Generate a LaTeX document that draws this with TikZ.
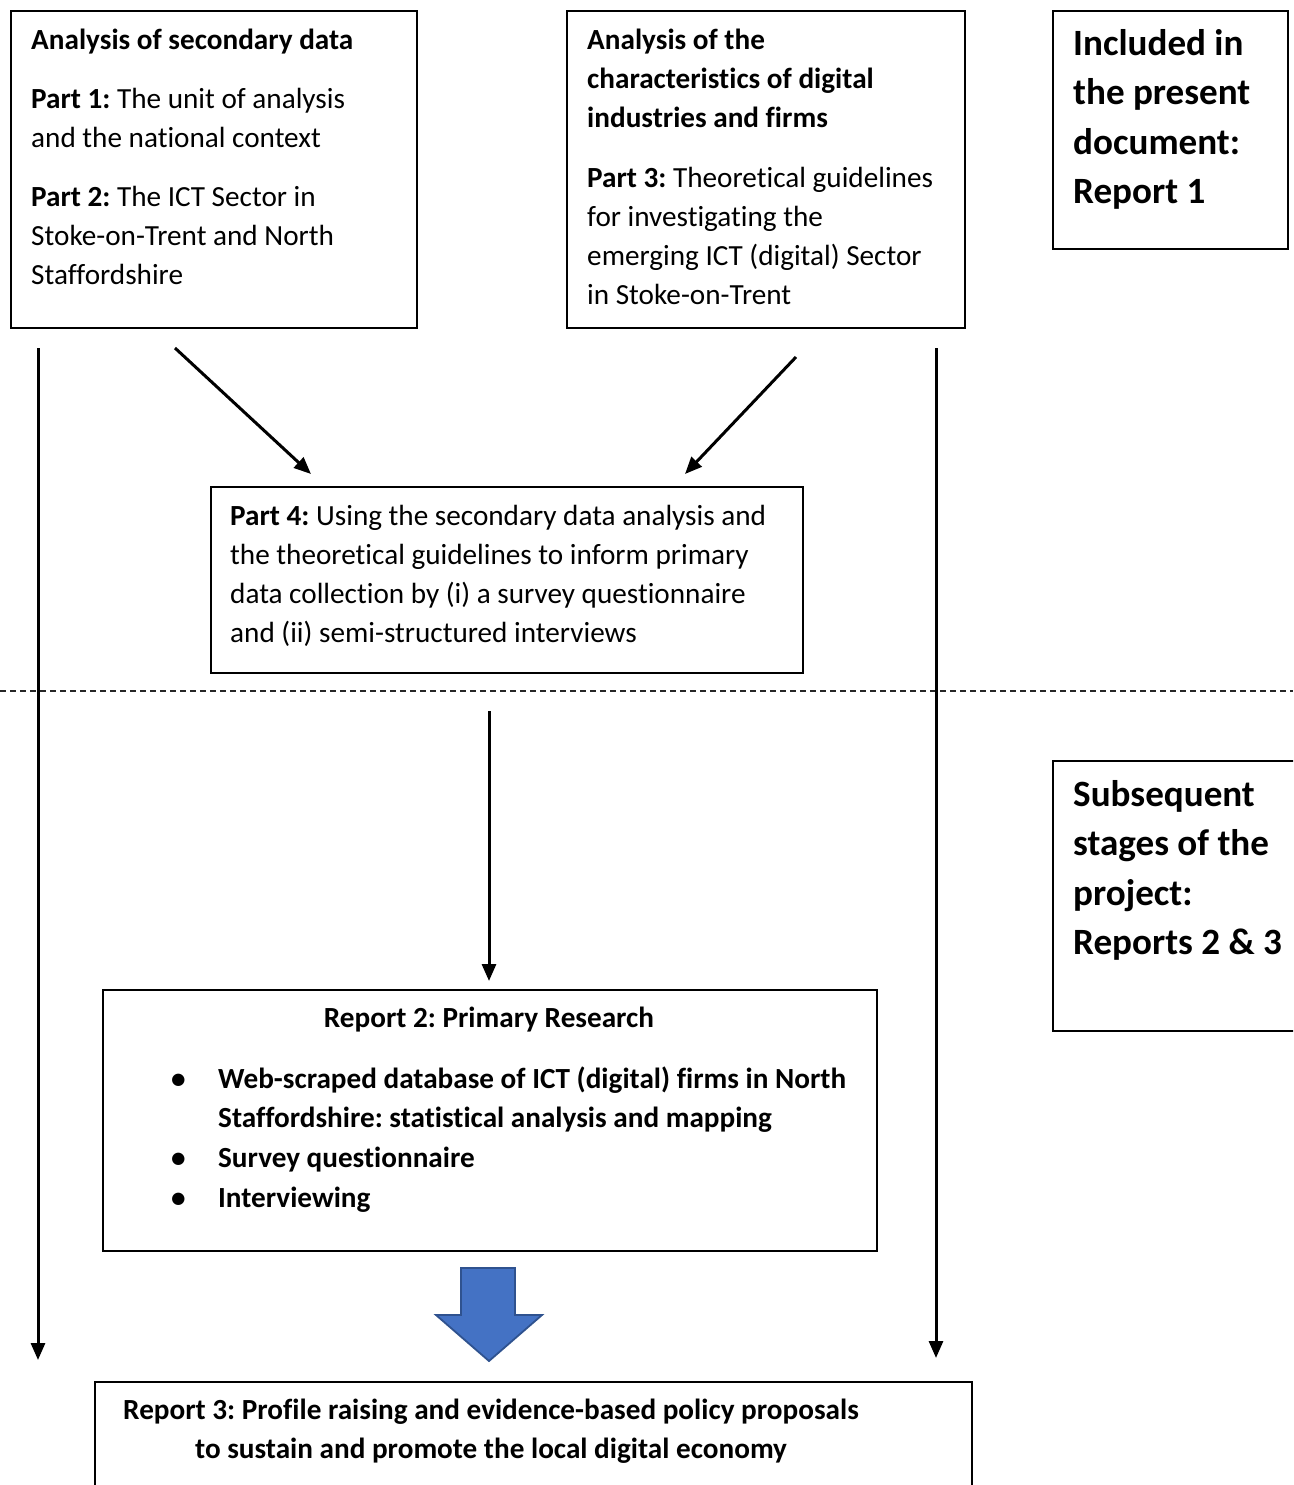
\documentclass[tikz,border=0pt]{standalone}
\usepackage{fontspec}
\setmainfont{Carlito}[RawFeature={-liga;-clig;-calt;-dlig;-hlig}]
\usetikzlibrary{arrows.meta}
\newcommand\nfont{\fontsize{29.2}{39}\selectfont\frenchspacing}
\newcommand\bigfont{\fontsize{37.1}{49.5}\selectfont\bfseries\frenchspacing}
\definecolor{arrowblue}{HTML}{4472C4}
\definecolor{arrowedge}{HTML}{2F528F}
\tikzset{
  box/.style={draw=black, line width=2, inner sep=0, anchor=north west},
  txt/.style={anchor=north west, inner sep=0, align=left, font=\nfont},
  ctxt/.style={anchor=north, inner sep=0, align=center, font=\nfont\bfseries},
  bigtxt/.style={anchor=north west, inner sep=0, align=left, font=\bigfont},
  arr/.style={line width=3, -{Triangle[length=17,width=14]}},
}
\begin{document}
\begin{tikzpicture}[x=1pt,y=-1pt]
\clip (0,0) rectangle (1293,1485);
\fill[white] (0,0) rectangle (1293,1485);

% boxes
\node[box, minimum width=406, minimum height=317] (A) at (10,10) {};
\node[box, minimum width=398, minimum height=317] (B) at (566,10) {};
\node[box, minimum width=235, minimum height=238] (R1) at (1052,10) {};
\node[box, minimum width=592, minimum height=186] (P4) at (210,486) {};
\node[box, minimum width=774, minimum height=261] (R2) at (102,989) {};
\node[box, minimum width=280, minimum height=270] (R23) at (1052,760) {};
\node[box, minimum width=877, minimum height=160] (R3) at (94,1381) {};

% texts
\node[txt] (tA) at (31,21.7) {\strut\textbf{Analysis of secondary data}\\[20pt]
\strut\textbf{Part 1:} The unit of analysis\\
\strut and the national context\\[20pt]
\strut\textbf{Part 2:} The ICT Sector in\\
\strut Stoke-on-Trent and North\\
\strut Staffordshire};

\node[txt] (tB) at (587,21.7) {\strut\textbf{Analysis of the}\\
\strut\textbf{characteristics of digital}\\
\strut\textbf{industries and firms}\\[21pt]
\strut\textbf{Part 3:} Theoretical guidelines\\
\strut for investigating the\\
\strut emerging ICT (digital) Sector\\
\strut in Stoke-on-Trent};

\node[bigtxt] (tR1) at (1073,20.4) {\strut Included in\\ \strut the present\\ \strut document:\\ \strut Report 1};

\node[bigtxt] (tR23) at (1073,771.4) {\strut Subsequent\\ \strut stages of the\\ \strut project:\\ \strut Reports 2 \& 3};

\node[txt] (tP4) at (230,497.7) {\strut\textbf{Part 4:} Using the secondary data analysis and\\
\strut the theoretical guidelines to inform primary\\
\strut data collection by (i) a survey questionnaire\\
\strut and (ii) semi-structured interviews};

\node[ctxt] (tR2) at (489,999.7) {\strut Report 2: Primary Research};
\node[txt, font=\nfont\bfseries] (tR2b) at (171,1060.7) {%
\strut\makebox[47pt][l]{•}Web-scraped database of ICT (digital) firms in North\\[0pt]
\strut\hspace*{47pt}Staffordshire: statistical analysis and mapping\\[1pt]
\strut\makebox[47pt][l]{•}Survey questionnaire\\[1pt]
\strut\makebox[47pt][l]{•}Interviewing};

\node[ctxt] (tR3) at (491,1391.7) {\strut Report 3: Profile raising and evidence-based policy proposals\\
\strut to sustain and promote the local digital economy};

% dashed separator
\coordinate (dL) at (0,691);
\coordinate (dR) at (1293,691);
\draw[line width=2.2, dash pattern=on 6pt off 4pt, draw=black!85] (dL) -- (dR);

% arrows
\coordinate (lS) at (38,348);
\coordinate (lE) at (38,1360);
\coordinate (rS) at (936,348);
\coordinate (rE) at (936,1358);
\coordinate (d1S) at (175,348);
\coordinate (d1E) at (311,474);
\coordinate (d2S) at (796,357);
\coordinate (d2E) at (685,474);
\coordinate (mS) at (489,711);
\coordinate (mE) at (489,981);
\draw[arr] (lS) -- (lE);
\draw[arr] (rS) -- (rE);
\draw[arr] (d1S) -- (d1E);
\draw[arr] (d2S) -- (d2E);
\draw[arr] (mS) -- (mE);

% block arrow
\draw[fill=arrowblue, draw=arrowedge, line width=1.8, line join=miter]
  (461,1268) -- (515,1268) -- (515,1315) -- (542,1315) -- (489,1361)
  -- (436,1315) -- (461,1315) -- cycle;
\end{tikzpicture}
\end{document}
